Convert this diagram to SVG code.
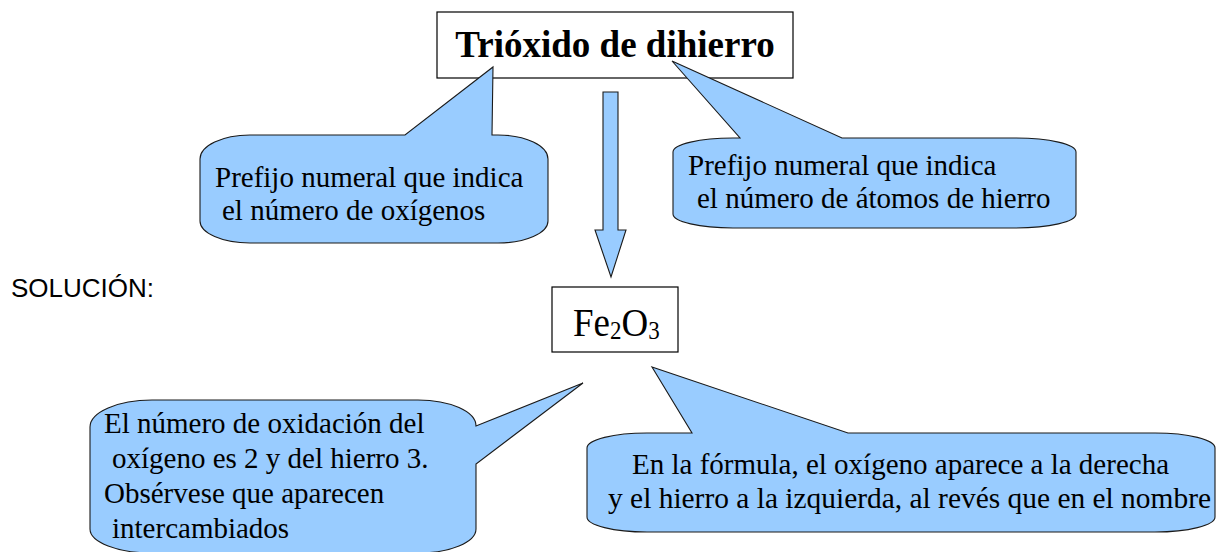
<svg xmlns="http://www.w3.org/2000/svg" width="1218" height="552" viewBox="0 0 1218 552">
<style>
.bg{fill:#ffffff}
.box{fill:#ffffff;stroke:#000000;stroke-width:1.2}
.callout{fill:#99ccff;stroke:#1a1a1a;stroke-width:1.1;stroke-linejoin:miter}
.t{font-family:"Liberation Serif","Times New Roman",serif;font-size:29px;fill:#000000}
.title{font-family:"Liberation Serif","Times New Roman",serif;font-size:37px;font-weight:bold;fill:#000000}
.formula{font-family:"Liberation Serif","Times New Roman",serif;font-size:37px;fill:#000000}
.sans{font-family:"Liberation Sans",Arial,sans-serif;font-size:26px;fill:#000000}
</style>
<rect class="bg" x="0" y="0" width="1218" height="552"/>

<g id="title-node">
  <rect class="box" x="437" y="12" width="356" height="66"/>
  <text class="title" x="615" y="57" text-anchor="middle">Trióxido de dihierro</text>
</g>

<g id="callout-oxigenos">
  <path class="callout" d="M 250,135 L 405,135 L 493,67 L 492,135 L 498,135 A 50 24 0 0 1 548,159 L 548,221 A 50 22 0 0 1 498,243 L 250,243 A 50 22 0 0 1 200,221 L 200,159 A 50 24 0 0 1 250,135 Z"/>
  <text class="t" x="215" y="187">Prefijo numeral que indica</text>
  <text class="t" x="222" y="220">el número de oxígenos</text>
</g>

<g id="callout-hierro">
  <path class="callout" d="M 733,138 L 740,138 L 672,61 L 842,138 L 1016,138 A 60 14 0 0 1 1076,152 L 1076,214 A 60 14 0 0 1 1016,228 L 733,228 A 60 14 0 0 1 673,214 L 673,152 A 60 14 0 0 1 733,138 Z"/>
  <text class="t" x="688" y="175">Prefijo numeral que indica</text>
  <text class="t" x="697" y="208">el número de átomos de hierro</text>
</g>

<g id="connectors">
  <polygon class="callout" points="603,92 618,92 618,230 626,230 611,277 595,230 603,230"/>
</g>

<g id="solucion-label">
  <text class="sans" x="11" y="297">SOLUCIÓN:</text>
</g>

<g id="formula-node">
  <rect class="box" x="552" y="287" width="126" height="65"/>
  <text class="formula" transform="translate(573,336) scale(1,1.1)">Fe<tspan font-size="23" dy="3">2</tspan><tspan dy="-3">O</tspan><tspan font-size="23" dy="3">3</tspan></text>
</g>

<g id="callout-oxidacion">
  <path class="callout" d="M 152,400 L 418,400 A 58 26 0 0 1 476,426 L 583,383 L 476,464 L 476,529 A 58 24 0 0 1 418,553 L 152,553 A 62 24 0 0 1 90,529 L 90,427 A 62 27 0 0 1 152,400 Z"/>
  <text class="t" x="104" y="433">El número de oxidación del</text>
  <text class="t" x="112" y="468">oxígeno es 2 y del hierro 3.</text>
  <text class="t" x="104" y="503">Obsérvese que aparecen</text>
  <text class="t" x="112" y="538">intercambiados</text>
</g>

<g id="callout-formula">
  <path class="callout" d="M 647,433 L 692,433 L 652,367 L 848,433 L 1155,433 A 60 15 0 0 1 1215,448 L 1215,517 A 60 15 0 0 1 1155,532 L 647,532 A 60 15 0 0 1 587,517 L 587,448 A 60 15 0 0 1 647,433 Z"/>
  <text class="t" x="632" y="474">En la fórmula, el oxígeno aparece a la derecha</text>
  <text class="t" x="608" y="508" textLength="603" lengthAdjust="spacingAndGlyphs">y el hierro a la izquierda, al revés que en el nombre</text>
</g>
</svg>
